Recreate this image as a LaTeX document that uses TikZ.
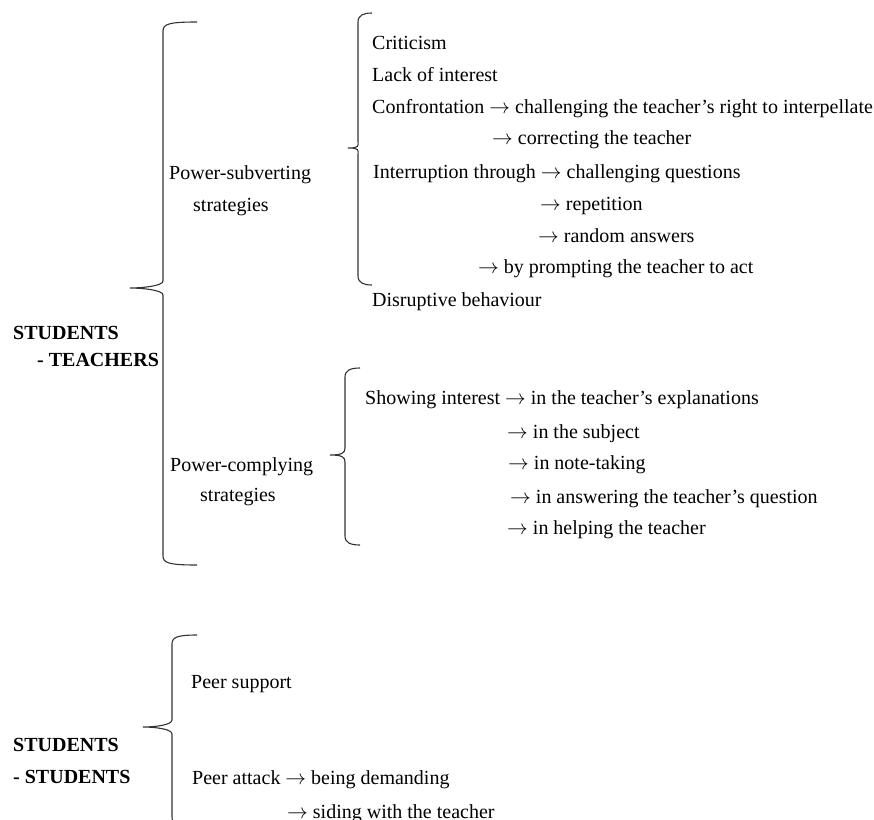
\documentclass[tikz,border=0pt]{standalone}
\usepackage{fontspec}
\setmainfont{Liberation Serif}
\usetikzlibrary{positioning}
\tikzset{
  brace/.style={draw=black!80,line width=1.1pt},
  item/.style={anchor=base west,inner sep=0pt,font=\fontsize{20}{24}\selectfont},
  head/.style={item,font=\fontsize{20}{24}\selectfont\bfseries}
}
\newcommand{\toarr}{$\rightarrow$}
% x, top, tip y, bottom, hook x, tip x
\newcommand{\brc}[6]{%
  \draw[brace] (#5,#2) .. controls (#1+6,#2) and (#1,#2+2) .. (#1,#2+9)
    -- (#1,#3-7) .. controls (#1,#3-2) and (#6+12,#3) .. (#6,#3)
    .. controls (#6+12,#3) and (#1,#3+2) .. (#1,#3+7)
    -- (#1,#4-9) .. controls (#1,#4-2) and (#1+6,#4) .. (#5,#4);}

\begin{document}
\begin{tikzpicture}[x=1pt,y=-1pt]
\useasboundingbox (0,0) rectangle (874,819);
\clip (0,0) rectangle (874,819);
% braces
\brc{163}{22}{288}{565}{197}{130}
\brc{358}{13}{148}{285}{372}{348}
\brc{345}{368}{455}{545}{360}{330}
\brc{172}{635}{727}{826}{197}{143}
% students - teachers
\node[head] (st) at (13,339) {STUDENTS};
\node[head] (te) at (37,366) {- TEACHERS};
\node[item] (subv) at (169,179) {Power-subverting};
\node[item] (subvs) at (193,211) {strategies};
\node[item] (crit) at (372,49) {Criticism};
\node[item] (lack) at (372,81) {Lack of interest};
\node[item] (conf) at (372,113) {Confrontation \toarr{} challenging the teacher’s right to interpellate};
\node[item] (corr) at (492,144) {\toarr{} correcting the teacher};
\node[item] (intr) at (373,178) {Interruption through \toarr{} challenging questions};
\node[item] (rep) at (540,210) {\toarr{} repetition};
\node[item] (rand) at (538,242) {\toarr{} random answers};
\node[item] (prom) at (478,273) {\toarr{} by prompting the teacher to act};
\node[item] (disr) at (372,306) {Disruptive behaviour};
\node[item] (comp) at (170,471) {Power-complying};
\node[item] (comps) at (200,501) {strategies};
\node[item] (show) at (365,404) {Showing interest \toarr{} in the teacher’s explanations};
\node[item] (subj) at (507,438) {\toarr{} in the subject};
\node[item] (note) at (508,469) {\toarr{} in note-taking};
\node[item] (answ) at (510,503) {\toarr{} in answering the teacher’s question};
\node[item] (help) at (507,534) {\toarr{} in helping the teacher};
% students - students
\node[head] (st2) at (13,751) {STUDENTS};
\node[head] (st3) at (13,783) {- STUDENTS};
\node[item] (supp) at (191,688) {Peer support};
\node[item] (att) at (192,784) {Peer attack \toarr{} being demanding};
\node[item] (side) at (287,818) {\toarr{} siding with the teacher};
\end{tikzpicture}
\end{document}
